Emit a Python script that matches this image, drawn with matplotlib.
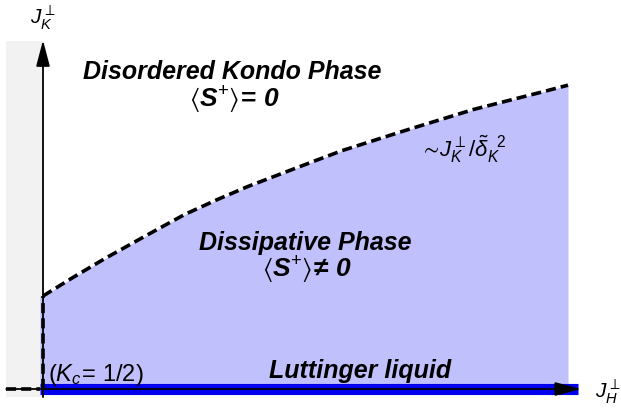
import numpy as np
import matplotlib
matplotlib.use('Agg')
import matplotlib.pyplot as plt

plt.rcParams['font.family'] = ['Liberation Sans', 'DejaVu Sans']
plt.rcParams['mathtext.fontset'] = 'custom'
plt.rcParams['mathtext.rm'] = 'Liberation Sans'
plt.rcParams['mathtext.it'] = 'Liberation Sans:italic'
plt.rcParams['mathtext.bf'] = 'Liberation Sans:bold'
plt.rcParams['mathtext.bfit'] = 'Liberation Sans:italic:bold'
plt.rcParams['mathtext.sf'] = 'Liberation Sans'
plt.rcParams['mathtext.fallback'] = 'stixsans'

# phase boundary J_K(J_H) (arbitrary units)
jh = [0.0, 0.06, 0.12, 0.20, 0.27, 0.33, 0.39, 0.46, 0.52, 0.57, 0.69, 0.82, 0.95, 1.0]
jk = [0.31, 0.375, 0.437, 0.515, 0.582, 0.63, 0.675, 0.722, 0.762, 0.795, 0.862, 0.932, 0.99, 1.013]
jh = np.array(jh)
jk = np.array(jk)

fig = plt.figure(figsize=(6.21, 4.12), dpi=100)
ax = fig.add_axes([0, 0, 1, 1])
ax.set_xlim(-0.0819, 1.101)
ax.set_ylim(-0.0767, 1.297)
ax.axis('off')

# grey strip left of the J_K axis
ax.fill_between([-0.0705, 0.0], -0.027, 1.16, color='#f2f2f2', lw=0, zorder=0)

# dissipative phase region
ax.fill_between(np.r_[-0.006, jh], -0.01, np.r_[jk[0], jk], color='#c0c0fc', lw=0, zorder=1)

# Luttinger liquid line
ax.plot([-0.006, 1.02], [0, 0], color='#0000ee', lw=8, solid_capstyle='butt', zorder=2)

# axes with arrows
ax.annotate('', xy=(1.025, 0), xytext=(-0.07, 0),
            arrowprops=dict(arrowstyle='-|>,head_length=1.6,head_width=0.42',
                            lw=1.3, color='k', shrinkA=0, shrinkB=0), zorder=4)
ax.annotate('', xy=(0, 1.163), xytext=(0, -0.027),
            arrowprops=dict(arrowstyle='-|>,head_length=1.6,head_width=0.42',
                            lw=1.3, color='k', shrinkA=0, shrinkB=0), zorder=4)

# dashed boundaries
ax.plot(jh, jk, color='k', lw=2.6, dashes=(2.8, 1.4), zorder=3)
ax.plot([0, 0], [0, jk[0]], color='k', lw=2.6, dashes=(2.8, 1.4), zorder=3)
ax.plot([-0.07, -0.006], [0, 0], color='k', lw=2.6, dashes=(2.8, 1.4), zorder=3)

# labels
ax.text(0.0, 1.237, r'$J_K^{\perp}$', fontsize=15, ha='center', va='center')
ax.text(1.075, -0.01, r'$J_H^{\perp}$', fontsize=15, ha='center', va='center')

ax.text(0.36, 1.057, 'Disordered Kondo Phase', fontsize=18, fontweight='bold',
        style='italic', ha='center', va='center')
ax.text(0.364, 0.963, r'$\langle\mathbfit{S}^{+}\rangle\!\mathbf{=}\,\mathbfit{0}$',
        fontsize=19, ha='center', va='center')

ax.text(0.50, 0.487, 'Dissipative Phase', fontsize=18, fontweight='bold',
        style='italic', ha='center', va='center', zorder=5)
ax.text(0.503, 0.397, r'$\langle\mathbfit{S}^{+}\rangle\!\mathbf{\neq}\,\mathbfit{0}$',
        fontsize=19, ha='center', va='center', zorder=5)

ax.text(0.604, 0.06, 'Luttinger liquid', fontsize=18, fontweight='bold',
        style='italic', ha='center', va='center', zorder=5)
ax.text(0.0095, 0.047, r'$\mathit{(K_c\!=\,1/2)}$', fontsize=17, ha='left', va='center', zorder=5)

ax.text(0.718, 0.80, r'$\sim\!J_K^{\perp}/\tilde{\delta}_K^{\ \ 2}$', fontsize=16,
        ha='left', va='center', zorder=5)

fig.savefig('out.png', dpi=100)
